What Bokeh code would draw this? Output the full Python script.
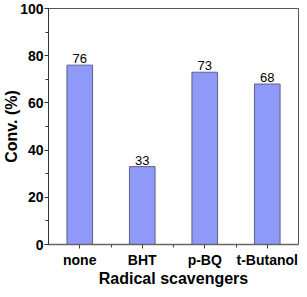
from bokeh.plotting import figure
from bokeh.models import FixedTicker, SingleIntervalTicker, ColumnDataSource, Range1d
from bokeh.embed import file_html
from bokeh.resources import INLINE
from bokeh.core.properties import value

categories = ["none", "BHT", "p-BQ", "t-Butanol"]
conversion = [76, 33, 73, 68]
y_ticks_interval = 20

positions = list(range(1, len(categories) + 1))
labels = [str(v) for v in conversion]

src = ColumnDataSource(dict(x=positions, top=conversion, label=labels))

p = figure(width=299, height=289, output_backend="svg", toolbar_location=None,
           x_range=Range1d(0.5, len(categories) + 0.5), y_range=Range1d(0, 100),
           min_border_left=20, min_border_right=1, min_border_top=8, min_border_bottom=4)
p.background_fill_color = "white"
p.border_fill_color = "white"
p.grid.visible = False
p.outline_line_color = "#555555"
p.outline_line_width = 1

p.vbar(x="x", top="top", width=0.41, bottom=0, source=src,
       fill_color="#8F99F7", line_color="#5E5F8C", line_width=1)
p.text(x="x", y="top", text="label", source=src, text_align="center",
       text_baseline="bottom", y_offset=-2, text_font=value("Liberation Sans"),
       text_font_size="13px", text_color="#000000")

# x axis
xa = p.xaxis[0]
xa.ticker = FixedTicker(ticks=positions,
                        minor_ticks=[i + 0.5 for i in positions[:-1]])
xa.major_label_overrides = {i: c for i, c in zip(positions, categories)}
xa.axis_label = "Radical scavengers"
xa.axis_label_text_font = "Liberation Sans"
xa.axis_label_text_font_style = "bold"
xa.axis_label_text_font_size = "16px"
xa.axis_label_text_color = "#000000"
xa.axis_label_standoff = -1
xa.major_label_text_font = "Liberation Sans"
xa.major_label_text_font_style = "bold"
xa.major_label_text_font_size = "14px"
xa.major_label_text_color = "#000000"
xa.major_label_standoff = 3
xa.major_tick_out = 4
xa.major_tick_in = 0
xa.minor_tick_out = 3
xa.minor_tick_in = 0
xa.axis_line_color = "#666666"
xa.axis_line_width = 1.5
xa.major_tick_line_color = "#444444"
xa.minor_tick_line_color = "#444444"

# y axis
ya = p.yaxis[0]
ya.ticker = SingleIntervalTicker(interval=y_ticks_interval, num_minor_ticks=2)
ya.axis_label = "Conv. (%)"
ya.axis_label_text_font = "Liberation Sans"
ya.axis_label_text_font_style = "bold"
ya.axis_label_text_font_size = "16px"
ya.axis_label_text_color = "#000000"
ya.axis_label_standoff = -3
ya.major_label_text_font = "Liberation Sans"
ya.major_label_text_font_style = "bold"
ya.major_label_text_font_size = "14px"
ya.major_label_text_color = "#000000"
ya.major_label_standoff = 1
ya.major_tick_out = 4
ya.major_tick_in = 0
ya.minor_tick_out = 3
ya.minor_tick_in = 0
ya.axis_line_color = "#333333"
ya.major_tick_line_color = "#333333"
ya.minor_tick_line_color = "#333333"

open("out.html", "w").write(file_html(p, INLINE))
